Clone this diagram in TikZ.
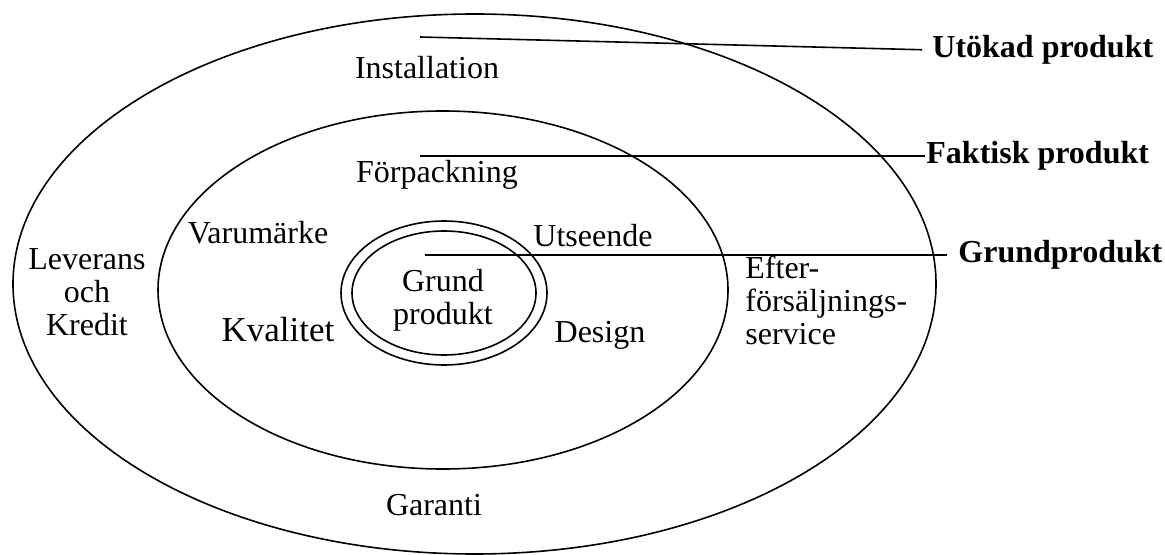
\documentclass[tikz,border=0pt]{standalone}
\usepackage{fontspec}
\setmainfont{Liberation Serif}
\usepackage{tikz}
\usetikzlibrary{positioning}

\tikzset{
  ring/.style={draw, line width=0.8pt},
  lbl/.style={font=\fontsize{16}{16.5}\selectfont, align=center, inner sep=0pt},
  tag/.style={font=\fontsize{16}{19}\selectfont\bfseries, anchor=west, inner sep=0pt},
}

\begin{document}
\begin{tikzpicture}[x=0.5pt, y=-0.5pt]
\useasboundingbox (0,0) rectangle (1165,555);

% Ellipses
\draw[ring] (474.5,284) ellipse [x radius=461.5, y radius=270];
\draw[ring] (443,290) ellipse [x radius=285, y radius=179];
\draw[ring] (444,293) ellipse [x radius=103, y radius=72];
\draw[ring] (444,293) ellipse [x radius=92, y radius=62];

% Texts in the rings
\node[lbl] (inst) at (427,68) {Installation};
\node[lbl] (forp) at (437,175) {Förpackning};
\node[lbl] (varu) at (258,233) {Varumärke};
\node[lbl] (utse) at (593,236) {Utseende};
\node[lbl] (grund) at (443,300) {Grund\\produkt};
\node[lbl] (lev) at (87,292) {Leverans\\och\\Kredit};
\node[lbl, font=\fontsize{17.5}{19}\selectfont] (kval) at (278,330) {Kvalitet};
\node[lbl] (design) at (600,335) {Design};
\node[lbl, align=left, anchor=west] (efter) at (745,300) {Efter-\\försäljnings-\\service};
\node[lbl] (gar) at (434,505) {Garanti};

% Labels to the right
\node[tag] (utokad) at (932,50) {Utökad produkt};
\node[tag] (faktisk) at (926,156) {Faktisk produkt};
\node[tag] (grundp) at (958,255) {Grundprodukt};

\coordinate (u0) at (420,37);
\coordinate (f0) at (420,156);
\coordinate (g0) at (425,255);

\draw[line width=0.8pt, shorten >=5pt] (u0) -- (utokad.west);
\draw[line width=1.2pt, shorten >=0.5pt] (f0) -- (faktisk.west);
\draw[line width=1pt, shorten >=5.5pt] (g0) -- (grundp.west);

\end{tikzpicture}
\end{document}
